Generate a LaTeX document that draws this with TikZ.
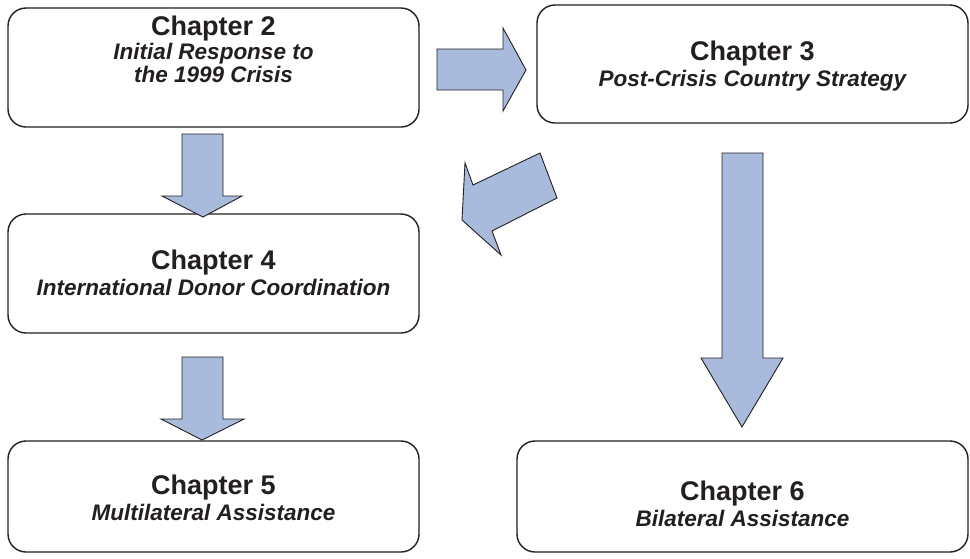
\documentclass[tikz,border=0pt]{standalone}
\usepackage{fontspec}
\setmainfont{Liberation Sans}
\begin{document}
\begin{tikzpicture}[x=1pt,y=-1pt,
  box/.style={draw=boxline,line width=1.4pt,rounded corners=18pt,inner sep=0pt},
  ttl/.style={anchor=base,inner sep=0pt,text=txt,font=\fontsize{27}{30}\selectfont\bfseries},
  sub/.style={anchor=base,inner sep=0pt,text=txt,font=\fontsize{22.5}{26}\selectfont\bfseries\itshape},
  blk/.style={fill=arrowfill,draw=boxline,line width=0.9pt,line join=miter}]
\definecolor{arrowfill}{RGB}{169,187,221}
\definecolor{boxline}{RGB}{35,31,32}
\definecolor{txt}{RGB}{35,31,32}
\useasboundingbox (0,0) rectangle (970,558);
\fill[white] (0,0) rectangle (970,558);
% boxes
\node[box,minimum width=411pt,minimum height=119pt] (c2) at (213.5,67.5) {};
\node[box,minimum width=431pt,minimum height=118pt] (c3) at (752.5,64) {};
\node[box,minimum width=411pt,minimum height=119pt] (c4) at (213.5,273.5) {};
\node[box,minimum width=411pt,minimum height=111pt] (c5) at (213.5,496.5) {};
\node[box,minimum width=451pt,minimum height=111pt] (c6) at (742.5,496.5) {};
% texts
\node[ttl] (c2t) at (213.5,35) {Chapter 2};
\node[sub] (c2s1) at (213.5,59) {Initial Response to};
\node[sub] (c2s2) at (213.5,82) {the 1999 Crisis};
\node[ttl] (c3t) at (752.5,60) {Chapter 3};
\node[sub] (c3s) at (752.5,86) {Post-Crisis Country Strategy};
\node[ttl] (c4t) at (213.5,269.5) {Chapter 4};
\node[sub] (c4s) at (213.5,295.5) {International Donor Coordination};
\node[ttl] (c5t) at (213.5,494.5) {Chapter 5};
\node[sub] (c5s) at (213.5,520.5) {Multilateral Assistance};
\node[ttl] (c6t) at (742.5,500.5) {Chapter 6};
\node[sub] (c6s) at (742.5,526) {Bilateral Assistance};
% block arrows
\draw[blk] (437,49) -- (503,49) -- (503,28) -- (526,70) -- (503,111) -- (503,90) -- (437,90) -- cycle;
\draw[blk] (182,134) -- (223,134) -- (223,196) -- (242,196) -- (203,217) -- (162,196) -- (182,196) -- cycle;
\draw[blk] (182,357) -- (223,357) -- (223,419) -- (244,419) -- (202,440) -- (161,419) -- (182,419) -- cycle;
\draw[blk] (722,153) -- (763,153) -- (763,358) -- (783,358) -- (742,427) -- (701,358) -- (722,358) -- cycle;
\draw[blk] (462,220) -- (465,163) -- (473,185) -- (540,153) -- (557,198) -- (492,231) -- (501,255) -- cycle;
\end{tikzpicture}
\end{document}
